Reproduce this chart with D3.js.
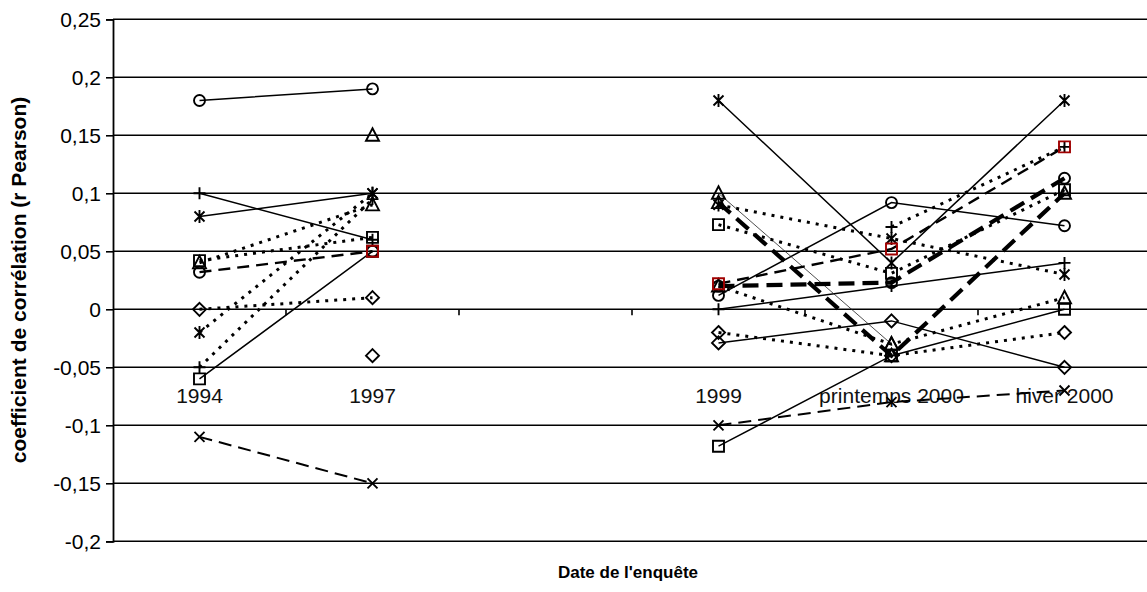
<!DOCTYPE html>
<html><head><meta charset="utf-8">
<script src="https://cdn.jsdelivr.net/npm/d3@7"></script>
<style>body{margin:0;background:#fff}svg{display:block;font-family:"Liberation Sans",Arial,sans-serif}</style>
</head><body>
<svg id="chart" width="1147" height="592"></svg>
<script>
// ---- data ----
const categories = ["1994", "1997", "", "1999", "printemps 2000", "hiver 2000"];
const yTickValues = [0.25, 0.2, 0.15, 0.1, 0.05, 0, -0.05, -0.1, -0.15, -0.2];
const yTickLabels = ["0,25", "0,2", "0,15", "0,1", "0,05", "0", "-0,05", "-0,1", "-0,15", "-0,2"];
const yTitle = "coefficient de corrélation (r Pearson)";
const xTitle = "Date de l'enquête";

const circleSolid    = [0.18, 0.19, null, 0.012, 0.092, 0.072];
const plusSolid      = [0.10, 0.06, null, 0.0, 0.02, 0.04];
const asteriskSolid  = [0.08, 0.10, null, 0.18, 0.04, 0.18];
const squareSolid    = [-0.06, 0.05, null, -0.118, -0.04, 0.0];
const diamondSolid   = [null, -0.04, null, -0.029, -0.01, -0.05];
const triangleThin   = [null, 0.15, null, 0.10, -0.03, null];
const crossDashed    = [-0.11, -0.15, null, -0.10, -0.08, -0.07];
const circleDashed   = [0.032, 0.05, null, null, null, null];
const redSquareDashed= [null, 0.05, null, 0.022, 0.052, 0.14];
const plusDotted     = [-0.05, 0.095, null, null, 0.071, 0.14];
const asteriskDotted = [-0.02, 0.10, null, 0.09, 0.061, 0.03];
const squareDotted   = [0.042, 0.062, null, 0.073, 0.031, 0.103];
const diamondDotted  = [0.0, 0.01, null, -0.02, -0.04, -0.02];
const triangleDotted = [0.04, 0.09, null, 0.02, -0.03, 0.01];
const heavyDashA     = [null, null, null, 0.092, -0.04, 0.10];
const heavyDashB     = [null, null, null, 0.02, 0.023, 0.113];

const series = [
  {values: circleSolid, marker: "circle", style: "solid"},
  {values: plusSolid, marker: "plus", style: "solid"},
  {values: asteriskSolid, marker: "asterisk", style: "solid"},
  {values: squareSolid, marker: "square", style: "solid"},
  {values: diamondSolid, marker: "diamond", style: "solid"},
  {values: triangleThin, marker: "triangle", style: "thin"},
  {values: crossDashed, marker: "cross", style: "dash"},
  {values: circleDashed, marker: "circle", style: "dash2"},
  {values: plusDotted, marker: "plus", style: "dot"},
  {values: asteriskDotted, marker: "asterisk", style: "dot"},
  {values: squareDotted, marker: "square", style: "dot"},
  {values: diamondDotted, marker: "diamond", style: "dot"},
  {values: triangleDotted, marker: "triangle", style: "dot"},
  {values: heavyDashA, marker: "triangle", style: "heavy"},
  {values: heavyDashB, marker: "circle", style: "heavy"},
  {values: redSquareDashed, marker: "redsquare", style: "dash2"}
];

const styles = {
  solid: {w: 1.5, dash: null, c: "#000"},
  thin:  {w: 0.8, dash: null, c: "#222"},
  dash:  {w: 2, dash: "13,7", c: "#000"},
  dash2: {w: 2.4, dash: "12,7", c: "#000"},
  dot:   {w: 3, dash: "3,6", c: "#000"},
  heavy: {w: 4.2, dash: "16,8", c: "#000"}
};

// ---- layout ----
const svg = d3.select("#chart");
const plotLeft = 113, plotTop = 19.3, plotBottom = 541.3;
const x = d3.scaleBand().domain(categories).range([plotLeft, plotLeft + 6 * 173]).padding(0);
const y = d3.scaleLinear().domain([-0.2, 0.25]).range([plotBottom, plotTop]);
const cx = c => x(c) + x.bandwidth() / 2;

// gridlines
svg.append("g").selectAll("line").data(yTickValues).join("line")
  .attr("x1", plotLeft).attr("x2", 1147)
  .attr("y1", d => y(d)).attr("y2", d => y(d))
  .attr("stroke", "#000").attr("stroke-width", 1.6);

// y axis
const yAxis = d3.axisLeft(y).tickValues(yTickValues).tickSize(7).tickPadding(5)
  .tickFormat((d, i) => yTickLabels[i]);
const ya = svg.append("g").attr("transform", `translate(${plotLeft},0)`).call(yAxis);
ya.select(".domain").attr("stroke", "#000").attr("stroke-width", 1.8);
ya.selectAll(".tick line").attr("stroke", "#000").attr("stroke-width", 1.6);
ya.selectAll("text").attr("font-size", 21).attr("fill", "#000")
  .attr("font-family", "Liberation Sans, Arial, sans-serif");

// x axis at 0: tick marks at category boundaries
const bounds = categories.slice(1).map(c => x(c));
svg.append("g").selectAll("line").data(bounds).join("line")
  .attr("x1", d => d).attr("x2", d => d)
  .attr("y1", y(0)).attr("y2", y(0) + 6)
  .attr("stroke", "#000").attr("stroke-width", 1.6);

// category labels
svg.append("g").selectAll("text").data(categories).join("text")
  .attr("x", d => cx(d)).attr("y", 403)
  .attr("text-anchor", "middle").attr("font-size", 21).attr("fill", "#111")
  .text(d => d);

// titles
svg.append("text").attr("transform", "translate(26,280) rotate(-90)")
  .attr("text-anchor", "middle").attr("font-weight", "bold").attr("font-size", 21)
  .text(yTitle);
svg.append("text").attr("x", 628).attr("y", 578)
  .attr("text-anchor", "middle").attr("font-weight", "bold").attr("font-size", 17)
  .text(xTitle);

// lines
const line = d3.line().defined(d => d.v != null).x(d => cx(d.c)).y(d => y(d.v));
const plotG = svg.append("g");
series.forEach(s => {
  const pts = categories.map((c, i) => ({c, v: s.values[i]}));
  const st = styles[s.style];
  plotG.append("path").attr("d", line(pts)).attr("fill", "none")
    .attr("stroke", st.c).attr("stroke-width", st.w)
    .attr("stroke-dasharray", st.dash);
});

// markers
function markerPath(type, px, py) {
  const p = d3.path();
  if (type === "circle") { p.moveTo(px + 5.5, py); p.arc(px, py, 5.5, 0, 2 * Math.PI); }
  else if (type === "square" || type === "redsquare") { p.rect(px - 5.5, py - 5.5, 11, 11); }
  else if (type === "diamond") { p.moveTo(px, py - 6.5); p.lineTo(px + 6.5, py); p.lineTo(px, py + 6.5); p.lineTo(px - 6.5, py); p.closePath(); }
  else if (type === "triangle") { p.moveTo(px, py - 7); p.lineTo(px + 6.5, py + 5.5); p.lineTo(px - 6.5, py + 5.5); p.closePath(); }
  else if (type === "plus") { p.moveTo(px - 6, py); p.lineTo(px + 6, py); p.moveTo(px, py - 6); p.lineTo(px, py + 6); }
  else if (type === "cross") { p.moveTo(px - 5, py - 5); p.lineTo(px + 5, py + 5); p.moveTo(px + 5, py - 5); p.lineTo(px - 5, py + 5); }
  else if (type === "asterisk") { p.moveTo(px - 5, py - 5); p.lineTo(px + 5, py + 5); p.moveTo(px + 5, py - 5); p.lineTo(px - 5, py + 5); p.moveTo(px, py - 6.5); p.lineTo(px, py + 6.5); }
  return p.toString();
}
series.forEach(s => {
  categories.forEach((c, i) => {
    const v = s.values[i];
    if (v == null) return;
    plotG.append("path").attr("d", markerPath(s.marker, cx(c), y(v)))
      .attr("fill", "none")
      .attr("stroke", s.marker === "redsquare" ? "#a00000" : "#000")
      .attr("stroke-width", 1.9);
  });
});
</script>
</body></html>
